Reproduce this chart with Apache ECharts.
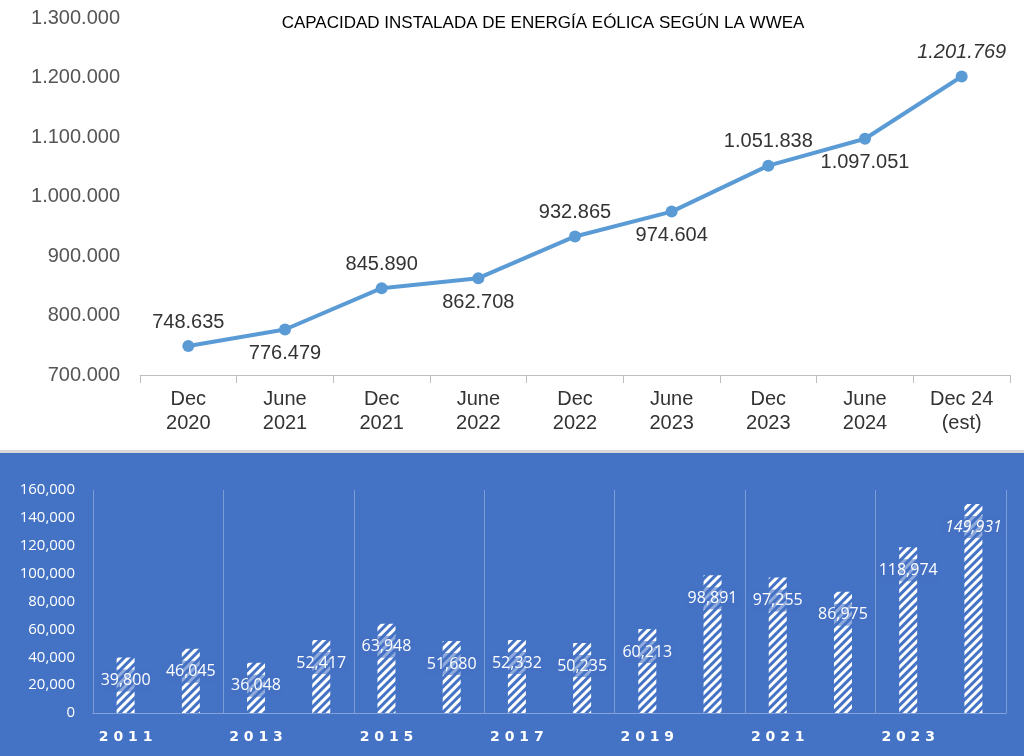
<!DOCTYPE html>
<html>
<head>
<meta charset="utf-8">
<script src="https://cdn.jsdelivr.net/npm/echarts@6/dist/echarts.min.js"></script>
<style>
  body { margin: 0; background: #fff; width: 1024px; height: 756px; overflow: hidden; }
  #top { position: absolute; left: 0; top: 0; width: 1024px; height: 446px; }
  #sep { position: absolute; left: 0; top: 450px; width: 1024px; height: 3px; background: #d9d9d9; }
  #bottom { position: absolute; left: 0; top: 453px; width: 1024px; height: 303px; background: #4472c4; }
</style>
</head>
<body>
<div id="top"></div>
<div id="sep"></div>
<div id="bottom"></div>
<script>
// grafico de arriba: capacidad acumulada (MW)
var periods = ['Dec\n2020', 'June\n2021', 'Dec\n2021', 'June\n2022', 'Dec\n2022', 'June\n2023', 'Dec\n2023', 'June\n2024', 'Dec 24\n(est)'];
var capacity = [748635, 776479, 845890, 862708, 932865, 974604, 1051838, 1097051, 1201769];
var capLabelPos = ['top', 'bottom', 'top', 'bottom', 'top', 'bottom', 'top', 'bottom', 'top'];

// grafico de abajo: nueva capacidad por año
var years = ['2011', '2012', '2013', '2014', '2015', '2016', '2017', '2018', '2019', '2020', '2021', '2022', '2023', '2024'];
var added = [39800, 46045, 36048, 52417, 63948, 51680, 52332, 50235, 60213, 98891, 97255, 86975, 118974, 149931];

function fmtDot(v) {
    return String(v).replace(/\B(?=(\d{3})+(?!\d))/g, '.');
}
function fmtComma(v) {
    return String(v).replace(/\B(?=(\d{3})+(?!\d))/g, ',');
}

var topChart = echarts.init(document.getElementById('top'));
topChart.setOption({
    animation: false,
    title: {
        text: 'CAPACIDAD INSTALADA DE ENERGÍA EÓLICA SEGÚN LA WWEA',
        left: 538, top: 10, textAlign: 'center',
        textStyle: { fontFamily: 'Liberation Sans', fontWeight: 'normal', fontSize: 17, color: '#000' }
    },
    grid: { left: 140, right: 14, top: 18, bottom: 71 },
    xAxis: {
        type: 'category',
        data: periods,
        axisLine: { lineStyle: { color: '#bfbfbf' } },
        axisTick: { show: true, lineStyle: { color: '#bfbfbf' }, length: 8 },
        axisLabel: { fontFamily: 'Liberation Sans', fontSize: 20, color: '#333', lineHeight: 24, margin: 12 }
    },
    yAxis: {
        type: 'value', min: 700000, max: 1300000, interval: 100000,
        splitLine: { show: false },
        axisLabel: { formatter: fmtDot, fontFamily: 'Liberation Sans', fontSize: 20, color: '#555', margin: 20 }
    },
    series: [{
        type: 'line',
        data: capacity.map(function (v, i) {
            return {
                value: v,
                label: {
                    position: capLabelPos[i],
                    fontStyle: i === capacity.length - 1 ? 'italic' : 'normal'
                }
            };
        }),
        symbol: 'circle', symbolSize: 12,
        lineStyle: { color: '#5b9bd5', width: 4 },
        itemStyle: { color: '#5b9bd5' },
        label: {
            show: true, distance: 8,
            formatter: function (p) { return fmtDot(p.value); },
            fontFamily: 'Liberation Sans', fontSize: 20, color: '#333'
        }
    }]
});

var botChart = echarts.init(document.getElementById('bottom'));
botChart.setOption({
    animation: false,
    grid: { left: 93, right: 18, top: 37, bottom: 43 },
    xAxis: {
        type: 'category',
        data: years,
        axisLine: { lineStyle: { color: 'rgba(255,255,255,0.35)' } },
        axisTick: { show: false },
        splitLine: { show: true, lineStyle: { color: 'rgba(255,255,255,0.3)' } },
        axisLabel: {
            fontFamily: 'DejaVu Sans', fontWeight: 'bold', fontSize: 14, color: '#fff', margin: 17,
            formatter: function (v) { return v.split('').join(' '); }
        }
    },
    yAxis: {
        type: 'value', min: 0, max: 160000, interval: 20000,
        splitLine: { show: false },
        axisLabel: { formatter: fmtComma, fontFamily: 'Open Sans', fontSize: 15, color: '#fff', margin: 18 }
    },
    series: [{
        type: 'bar',
        data: added.map(function (v, i) {
            return { value: v, label: { fontStyle: i === added.length - 1 ? 'italic' : 'normal' } };
        }),
        barWidth: 18,
        itemStyle: {
            color: '#4472c4',
            decal: { symbol: 'rect', dashArrayX: [1, 0], dashArrayY: [3, 3], rotation: -Math.PI / 4, color: '#ffffff' }
        },
        label: {
            show: true, position: 'insideTop', distance: 12,
            formatter: function (p) { return fmtComma(p.value); },
            fontFamily: 'Open Sans', fontSize: 16, color: '#fff',
            backgroundColor: 'rgba(68,114,196,0.6)', padding: [3, 2]
        }
    }]
});
</script>
</body>
</html>
